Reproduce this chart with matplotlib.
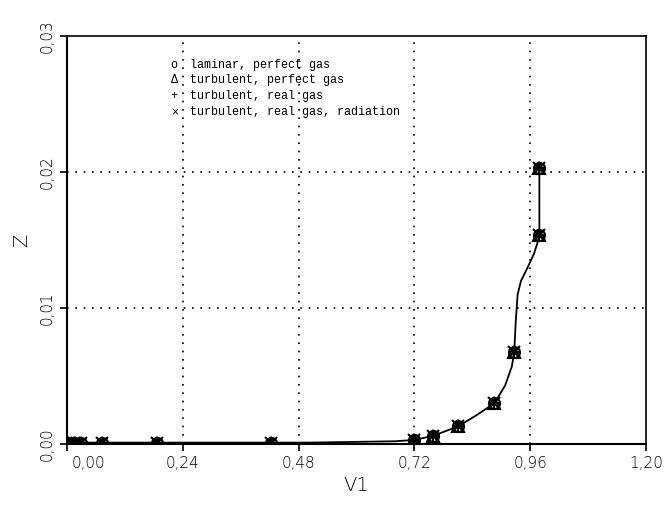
import matplotlib
matplotlib.use("Agg")
import matplotlib.pyplot as plt
import matplotlib.transforms as mtransforms

# Marker points (V1, Z)
v1_pts = [-0.002, 0.015, 0.029, 0.072, 0.186, 0.422, 0.720, 0.759, 0.811, 0.886, 0.927, 0.979, 0.979]
z_pts = [0.0001, 0.0001, 0.0001, 0.0001, 0.0001, 0.0001, 0.0003, 0.0006, 0.0013, 0.0030, 0.0068, 0.0154, 0.0203]

# Profile curve (V1, Z)
v1_line = [-0.01, 0.10, 0.30, 0.50, 0.68, 0.720, 0.759, 0.811, 0.848, 0.886, 0.908, 0.922, 0.927,
           0.930, 0.934, 0.941, 0.955, 0.968, 0.976, 0.979, 0.979]
z_line = [0.0001, 0.0001, 0.0001, 0.0001, 0.0002, 0.0003, 0.0006, 0.0013, 0.0021, 0.0030, 0.0043, 0.0057, 0.0068,
          0.0090, 0.0110, 0.0120, 0.0130, 0.0140, 0.0149, 0.0154, 0.0203]

series_labels = ["laminar, perfect gas", "turbulent, perfect gas",
                 "turbulent, real gas", "turbulent, real gas, radiation"]
series_markers = ["o", "^", "+", "x"]
legend_symbols = ["o", "\u0394", "+", "\u00d7"]

xticks = [0.0, 0.24, 0.48, 0.72, 0.96, 1.20]
xticklabels = ["0,00", "0,24", "0,48", "0,72", "0,96", "1,20"]
yticks = [0.0, 0.01, 0.02, 0.03]
yticklabels = ["0,00", "0,01", "0,02", "0,03"]

fig = plt.figure(figsize=(6.72, 5.07), dpi=100)
ax = fig.add_axes([0.0997, 0.1243, 0.8616, 0.8047])

ax.plot(v1_line, z_line, color="black", lw=1.3, zorder=3)
for m in series_markers:
    ax.plot(v1_pts, z_pts, linestyle="none", marker=m, markersize=8,
            markerfacecolor="none", markeredgecolor="black", markeredgewidth=1.5, zorder=4)

ax.set_xlim(0, 1.20)
ax.set_ylim(0, 0.03)
ax.set_xticks(xticks)
ax.set_xticklabels(xticklabels)
ax.set_yticks(yticks)
ax.set_yticklabels(yticklabels, rotation=90, va="center")

for v in xticks[1:-1]:
    ax.axvline(v, color="black", lw=1.2, linestyle=(0, (1, 4)), zorder=1)
for v in yticks[1:-1]:
    ax.axhline(v, color="black", lw=1.2, linestyle=(0, (1, 4)), zorder=1)

for lab in ax.get_xticklabels() + ax.get_yticklabels():
    lab.set_fontfamily("DejaVu Sans")
    lab.set_fontsize(11)
    lab.set_fontweight("light")
ax.tick_params(direction="out", length=5, width=1.2, colors="black", pad=4)

# shift the first x tick label right, as in the reference
first = ax.get_xticklabels()[0]
first.set_transform(first.get_transform() + mtransforms.ScaledTranslation(21 / 100, 0, fig.dpi_scale_trans))

for side in ["left", "bottom"]:
    ax.spines[side].set_linewidth(1.5)
for side in ["top", "right"]:
    ax.spines[side].set_linewidth(1.2)

ax.set_xlabel("V1", fontsize=14, family="DejaVu Sans", fontweight="light", labelpad=3)
ax.set_ylabel("Z", fontsize=14, family="DejaVu Sans", fontweight="light", labelpad=6)

# legend as text lines
y0 = 0.93
dy = 0.039
for i, (sym, lab) in enumerate(zip(legend_symbols, series_labels)):
    ax.text(0.185, y0 - i * dy, sym, transform=ax.transAxes, fontsize=8.5,
            family="Liberation Mono", va="center", ha="center")
    ax.text(0.212, y0 - i * dy, lab, transform=ax.transAxes, fontsize=8.5,
            family="Liberation Mono", va="center", ha="left")

fig.savefig("out.png", dpi=100)
